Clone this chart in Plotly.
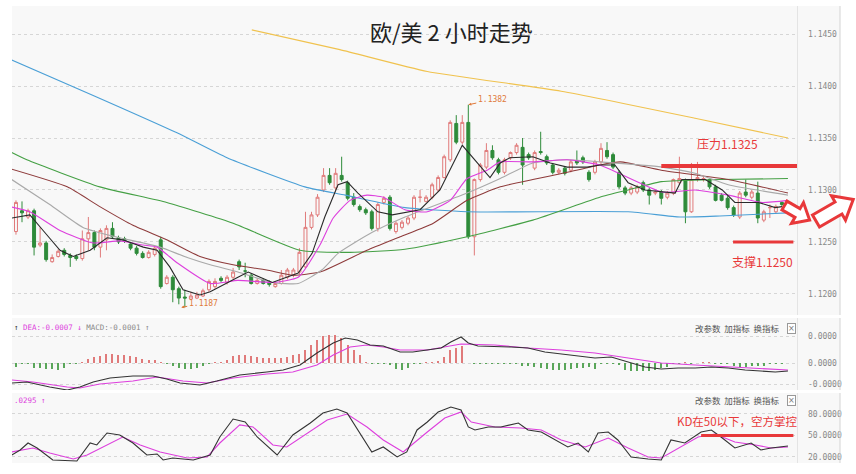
import math
import plotly.graph_objects as go

W, H = 856, 474

# ---------------- data ----------------
open_ = [1.1260, 1.1280, 1.1274, 1.1280, 1.1247, 1.1249, 1.1231, 1.1236, 1.1242, 1.1237,
         1.1236, 1.1234, 1.1253, 1.1259, 1.1245, 1.1252, 1.1263, 1.1254, 1.1253, 1.1248,
         1.1244, 1.1239, 1.1235, 1.1238, 1.1252, 1.1210, 1.1216, 1.1205, 1.1197, 1.1195,
         1.1196, 1.1198, 1.1204, 1.1207, 1.1215, 1.1211, 1.1216, 1.1231, 1.1222, 1.1218,
         1.1210, 1.1213, 1.1211, 1.1207, 1.1210, 1.1216, 1.1218, 1.1221, 1.1226, 1.1264,
         1.1276, 1.1300, 1.1314, 1.1302, 1.1314, 1.1307, 1.1293, 1.1284, 1.1281, 1.1279,
         1.1263, 1.1288, 1.1293, 1.1260, 1.1264, 1.1268, 1.1273, 1.1293, 1.1289, 1.1293,
         1.1300, 1.1312, 1.1329, 1.1364, 1.1346, 1.1365, 1.1255, 1.1310, 1.1322, 1.1338,
         1.1329, 1.1317, 1.1331, 1.1336, 1.1341, 1.1334, 1.1321, 1.1337, 1.1332, 1.1324,
         1.1317, 1.1321, 1.1319, 1.1328, 1.1331, 1.1317, 1.1317, 1.1327, 1.1338, 1.1334,
         1.1317, 1.1302, 1.1297, 1.1298, 1.1307, 1.1300, 1.1297, 1.1298, 1.1293, 1.1297,
         1.1307, 1.1310, 1.1279, 1.1310, 1.1310, 1.1310, 1.1303, 1.1295, 1.1292, 1.1283,
         1.1274, 1.1298, 1.1293, 1.1297, 1.1271, 1.1283, 1.1279, 1.1288]
high = [1.1290, 1.1289, 1.1282, 1.1282, 1.1264, 1.1251, 1.1238, 1.1243, 1.1244, 1.1239,
        1.1238, 1.1261, 1.1274, 1.1261, 1.1263, 1.1266, 1.1269, 1.1256, 1.1255, 1.1250,
        1.1246, 1.1241, 1.1242, 1.1246, 1.1255, 1.1218, 1.1218, 1.1207, 1.1204, 1.1202,
        1.1202, 1.1205, 1.1214, 1.1215, 1.1217, 1.1218, 1.1225, 1.1233, 1.1230, 1.1220,
        1.1215, 1.1215, 1.1213, 1.1212, 1.1223, 1.1225, 1.1225, 1.1244, 1.1279, 1.1279,
        1.1296, 1.1321, 1.1321, 1.1321, 1.1332, 1.1309, 1.1297, 1.1286, 1.1283, 1.1281,
        1.1288, 1.1294, 1.1295, 1.1270, 1.1271, 1.1275, 1.1295, 1.1300, 1.1295, 1.1307,
        1.1314, 1.1334, 1.1367, 1.1372, 1.1372, 1.1382, 1.1311, 1.1326, 1.1345, 1.1343,
        1.1331, 1.1331, 1.1337, 1.1345, 1.1350, 1.1336, 1.1338, 1.1356, 1.1334, 1.1326,
        1.1321, 1.1323, 1.1329, 1.1338, 1.1333, 1.1319, 1.1329, 1.1345, 1.1346, 1.1336,
        1.1319, 1.1304, 1.1304, 1.1305, 1.1309, 1.1302, 1.1300, 1.1300, 1.1299, 1.1311,
        1.1332, 1.1311, 1.1326, 1.1327, 1.1313, 1.1311, 1.1305, 1.1297, 1.1294, 1.1285,
        1.1299, 1.1310, 1.1300, 1.1308, 1.1281, 1.1286, 1.1286, 1.1289]
low = [1.1257, 1.1269, 1.1272, 1.1237, 1.1245, 1.1231, 1.1230, 1.1235, 1.1236, 1.1226,
       1.1232, 1.1232, 1.1242, 1.1242, 1.1235, 1.1242, 1.1253, 1.1248, 1.1249, 1.1242,
       1.1237, 1.1234, 1.1234, 1.1236, 1.1205, 1.1209, 1.1192, 1.1190, 1.1187, 1.1194,
       1.1195, 1.1197, 1.1202, 1.1205, 1.1211, 1.1209, 1.1214, 1.1223, 1.1216, 1.1209,
       1.1209, 1.1209, 1.1207, 1.1206, 1.1209, 1.1214, 1.1216, 1.1219, 1.1224, 1.1262,
       1.1274, 1.1298, 1.1305, 1.1300, 1.1308, 1.1290, 1.1284, 1.1279, 1.1276, 1.1261,
       1.1260, 1.1286, 1.1261, 1.1258, 1.1262, 1.1266, 1.1271, 1.1288, 1.1288, 1.1291,
       1.1298, 1.1311, 1.1327, 1.1344, 1.1344, 1.1253, 1.1237, 1.1308, 1.1320, 1.1329,
       1.1315, 1.1315, 1.1329, 1.1334, 1.1305, 1.1329, 1.1319, 1.1334, 1.1324, 1.1315,
       1.1315, 1.1314, 1.1317, 1.1324, 1.1325, 1.1308, 1.1315, 1.1325, 1.1330, 1.1320,
       1.1301, 1.1295, 1.1295, 1.1296, 1.1298, 1.1286, 1.1295, 1.1286, 1.1291, 1.1295,
       1.1305, 1.1268, 1.1278, 1.1308, 1.1308, 1.1301, 1.1289, 1.1289, 1.1281, 1.1274,
       1.1272, 1.1293, 1.1291, 1.1268, 1.1269, 1.1273, 1.1277, 1.1284]
close = [1.1288, 1.1278, 1.1280, 1.1245, 1.1249, 1.1233, 1.1235, 1.1241, 1.1238, 1.1235,
         1.1234, 1.1253, 1.1259, 1.1245, 1.1261, 1.1263, 1.1255, 1.1250, 1.1251, 1.1244,
         1.1239, 1.1235, 1.1240, 1.1244, 1.1207, 1.1216, 1.1204, 1.1196, 1.1196, 1.1198,
         1.1199, 1.1203, 1.1212, 1.1212, 1.1213, 1.1216, 1.1221, 1.1226, 1.1222, 1.1210,
         1.1213, 1.1210, 1.1209, 1.1210, 1.1218, 1.1223, 1.1223, 1.1240, 1.1264, 1.1276,
         1.1293, 1.1314, 1.1307, 1.1316, 1.1310, 1.1292, 1.1286, 1.1281, 1.1278, 1.1263,
         1.1286, 1.1292, 1.1263, 1.1268, 1.1269, 1.1273, 1.1293, 1.1293, 1.1293, 1.1305,
         1.1312, 1.1332, 1.1365, 1.1346, 1.1365, 1.1255, 1.1310, 1.1324, 1.1338, 1.1331,
         1.1317, 1.1329, 1.1336, 1.1343, 1.1324, 1.1331, 1.1336, 1.1336, 1.1326, 1.1317,
         1.1319, 1.1316, 1.1327, 1.1326, 1.1327, 1.1310, 1.1327, 1.1340, 1.1332, 1.1322,
         1.1303, 1.1297, 1.1302, 1.1303, 1.1300, 1.1295, 1.1298, 1.1292, 1.1297, 1.1310,
         1.1311, 1.1279, 1.1310, 1.1312, 1.1311, 1.1303, 1.1290, 1.1290, 1.1283, 1.1276,
         1.1297, 1.1295, 1.1298, 1.1273, 1.1279, 1.1283, 1.1284, 1.1286]
bars = list(range(len(close)))

ma5_x = [-0.7, 2.3, 4.5, 7.3, 9.5, 12.3, 15.1, 17.7, 21.1, 23.4, 25.5, 27.7, 30.5, 32.2, 36.8, 38.5,
         42.5, 46.8, 49.1, 51.2, 53.4, 54.9, 56.7, 60.0, 62.4, 64.5, 67.0, 70.3, 74.0, 76.5, 78.6,
         80.3, 81.9, 85.7, 88.6, 91.4, 94.7, 96.8, 99.3, 101.5, 104.3, 109.3, 110.4, 114.3, 117.1,
         119.2, 123.1, 125.9, 127.0]
ma5_y = [1.1273, 1.1276, 1.1261, 1.1242, 1.1236, 1.1242, 1.1254, 1.1252, 1.1245, 1.1242, 1.1226,
         1.1204, 1.1199, 1.1202, 1.1216, 1.1221, 1.1211, 1.1220, 1.1239, 1.1274, 1.1305, 1.1308,
         1.1297, 1.1279, 1.1276, 1.1278, 1.1281, 1.1300, 1.1343, 1.1326, 1.1312, 1.1326, 1.1331,
         1.1332, 1.1326, 1.1322, 1.1322, 1.1324, 1.1324, 1.1307, 1.1300, 1.1297, 1.1310, 1.1310,
         1.1300, 1.1288, 1.1288, 1.1283, 1.1284]
ma10_x = [-1.0, 2.3, 7.3, 12.8, 17.2, 21.1, 23.4, 26.7, 32.2, 36.8, 42.5, 46.8, 50.4, 52.6, 55.4,
          58.2, 60.9, 64.5, 68.2, 72.0, 74.8, 78.1, 80.3, 85.7, 91.4, 96.8, 107.1, 112.6, 118.1,
          123.7, 128.0]
ma10_y = [1.1284, 1.1279, 1.1261, 1.1249, 1.1251, 1.1247, 1.1245, 1.1230, 1.1210, 1.1213, 1.1211,
          1.1216, 1.1247, 1.1273, 1.1290, 1.1295, 1.1293, 1.1281, 1.1279, 1.1290, 1.1311, 1.1319,
          1.1327, 1.1327, 1.1329, 1.1324, 1.1298, 1.1300, 1.1295, 1.1288, 1.1290]
ma20_x = [-0.7, 5.6, 11.1, 17.2, 21.1, 23.9, 28.4, 32.2, 36.8, 42.5, 46.8, 50.7, 53.4, 59.0, 64.5,
          74.8, 80.3, 85.7, 91.4, 96.8, 107.1, 112.6, 118.1, 128.0]
ma20_y = [1.1310, 1.1286, 1.1264, 1.1254, 1.1249, 1.1245, 1.1235, 1.1228, 1.1221, 1.1211, 1.1210,
          1.1223, 1.1239, 1.1259, 1.1274, 1.1297, 1.1311, 1.1326, 1.1329, 1.1327, 1.1322, 1.1316,
          1.1305, 1.1295]
ma30_x = [-0.7, 8.5, 13.9, 19.4, 25.0, 30.5, 36.0, 41.6, 45.9, 50.4, 58.2, 63.7, 69.2, 74.8, 80.3,
          85.7, 91.4, 96.8, 100.2, 107.0, 118.1, 128.0]
ma30_y = [1.1320, 1.1303, 1.1284, 1.1266, 1.1252, 1.1236, 1.1228, 1.1223, 1.1218, 1.1221, 1.1242,
          1.1255, 1.1268, 1.1290, 1.1303, 1.1310, 1.1317, 1.1324, 1.1327, 1.1319, 1.1310, 1.1297]
ma60_x = [-0.7, 1.8, 13.9, 25.0, 36.0, 47.1, 55.4, 64.5, 74.8, 85.7, 96.8, 101.5, 107.0, 116.7, 128.0]
ma60_y = [1.1336, 1.1329, 1.1303, 1.1288, 1.1268, 1.1242, 1.1240, 1.1243, 1.1255, 1.1271, 1.1293,
          1.1300, 1.1308, 1.1310, 1.1311]
ma120_x = [-0.7, 12.8, 26.7, 35.0, 47.9, 54.6, 64.5, 74.8, 101.5, 110.1, 116.7, 128.0]
ma120_y = [1.1425, 1.1391, 1.1355, 1.1331, 1.1303, 1.1295, 1.1283, 1.1279, 1.1279, 1.1274, 1.1275, 1.1278]
ma250_x = [39.1, 53.7, 68.2, 90.4, 112.6, 128.0]
ma250_y = [1.1454, 1.1435, 1.1414, 1.1395, 1.1369, 1.1350]

macd_hist = [-0.0004, -0.0001, -0.0001, -0.0005, -0.0005, -0.0006, -0.0006, -0.0007, -0.0005, -0.0001,
             -0.0001, 0.0001, 0.0004, 0.0006, 0.0007, 0.0009, 0.0009, 0.0008, 0.0008, 0.0007,
             0.0006, 0.0004, 0.0003, 0.0003, 0.0001, -0.0001, -0.0003, -0.0005, -0.0006, -0.0006,
             -0.0005, -0.0003, -0.0001, 0.0001, 0.0001, 0.0003, 0.0007, 0.0008, 0.0008, 0.0007,
             0.0006, 0.0005, 0.0005, 0.0005, 0.0005, 0.0006, 0.0008, 0.0009, 0.0013, 0.0018,
             0.0023, 0.0027, 0.0028, 0.0028, 0.0025, 0.0018, 0.0013, 0.0008, 0.0001, -0.0001,
             -0.0001, -0.0001, -0.0002, -0.0006, -0.0007, -0.0005, -0.0001, -0.0001, 0.0001, 0.0001,
             0.0002, 0.0006, 0.0013, 0.0015, 0.0017, 0.0000, -0.0001, -0.0001, -0.0001, -0.0001,
             -0.0001, -0.0001, -0.0001, -0.0001, -0.0003, -0.0003, -0.0004, -0.0005, -0.0006, -0.0007,
             -0.0007, -0.0007, -0.0006, -0.0005, -0.0005, -0.0004, -0.0006, -0.0001, -0.0001, -0.0001,
             -0.0002, -0.0007, -0.0008, -0.0008, -0.0008, -0.0008, -0.0007, -0.0005, -0.0004, -0.0001,
             -0.0001, 0.0001, -0.0001, 0.0000, 0.0001, 0.0001, -0.0001, -0.0001, -0.0001, -0.0003,
             -0.0004, -0.0004, -0.0003, -0.0003, -0.0003, -0.0001, -0.0001, -0.0001]
dif_x = [-0.7, 1.8, 5.6, 8.5, 10.6, 12.8, 15.6, 19.4, 22.7, 25.0, 27.2, 30.5, 33.3, 37.1, 41.6, 44.3,
         47.1, 49.9, 52.6, 54.6, 56.6, 58.7, 60.9, 63.7, 65.8, 68.3, 70.5, 72.1, 73.8, 75.0, 76.6,
         82.1, 84.9, 87.7, 91.5, 96.0, 98.7, 101.5, 104.3, 107.0, 109.8, 112.6, 115.3, 118.1, 120.9,
         123.5, 125.9, 128.0]
dif_y = [-0.0020, -0.0019, -0.0024, -0.0027, -0.0024, -0.0019, -0.0015, -0.0013, -0.0013, -0.0016,
         -0.0020, -0.0022, -0.0018, -0.0012, -0.0009, -0.0007, -0.0002, 0.0010, 0.0020, 0.0025,
         0.0023, 0.0018, 0.0017, 0.0011, 0.0011, 0.0013, 0.0015, 0.0021, 0.0026, 0.0020, 0.0017,
         0.0016, 0.0015, 0.0011, 0.0008, 0.0005, 0.0006, 0.0001, -0.0004, -0.0006, -0.0005,
         -0.0005, -0.0004, -0.0005, -0.0007, -0.0008, -0.0009, -0.0008]
dea_x = [-0.7, 2.8, 8.5, 10.6, 13.9, 19.4, 23.4, 27.7, 31.7, 36.0, 41.6, 45.9, 49.9, 52.6, 55.4,
         58.2, 60.9, 63.7, 68.2, 73.8, 79.4, 84.9, 90.4, 96.0, 101.5, 107.0, 112.6, 118.1, 123.5, 128.0]
dea_y = [-0.0017, -0.0019, -0.0024, -0.0025, -0.0021, -0.0018, -0.0014, -0.0018, -0.0020, -0.0015,
         -0.0011, -0.0009, -0.0002, 0.0008, 0.0016, 0.0018, 0.0016, 0.0013, 0.0013, 0.0019, 0.0018,
         0.0015, 0.0013, 0.0010, 0.0005, 0.0000, -0.0002, -0.0004, -0.0006, -0.0007]

k_x = [-0.7, 0.7, 2.0, 3.5, 6.1, 10.1, 12.3, 13.4, 15.1, 17.2, 19.4, 21.7, 23.4, 24.4, 26.0, 29.4,
       32.2, 33.8, 36.0, 38.0, 40.0, 43.3, 45.9, 48.8, 50.9, 53.2, 54.9, 57.0, 59.0, 60.9, 63.2,
       64.8, 66.5, 68.2, 70.0, 72.1, 73.8, 75.0, 76.1, 78.3, 80.4, 83.3, 84.9, 87.1, 89.4, 91.5,
       93.2, 94.9, 96.5, 98.2, 99.8, 102.0, 104.8, 107.0, 108.6, 110.9, 113.6, 115.3, 116.9,
       119.2, 121.9, 123.5, 125.2, 128.0]
k_y = [22.8, 29.8, 39.5, 32.6, 15.8, 14.4, 39.5, 36.8, 53.5, 50.7, 39.5, 22.8, 24.2, 15.8, 18.6,
       15.8, 22.8, 47.9, 73.0, 68.8, 47.9, 22.8, 50.7, 67.4, 81.4, 87.0, 81.4, 53.5, 27.0, 34.0,
       20.0, 27.0, 57.7, 68.8, 82.8, 89.8, 85.6, 61.9, 57.7, 61.9, 61.9, 67.4, 57.7, 54.9, 43.7,
       34.0, 39.5, 27.0, 53.5, 54.9, 43.7, 20.0, 17.2, 15.8, 43.7, 39.5, 54.9, 57.7, 47.9, 32.6,
       39.5, 29.8, 32.6, 35.4]
d_x = [-0.7, 2.8, 5.6, 9.5, 11.8, 15.1, 17.7, 20.6, 23.9, 28.4, 31.7, 33.8, 37.1, 39.3, 42.6,
       44.9, 48.3, 51.6, 54.9, 58.2, 60.9, 64.2, 68.2, 71.1, 73.8, 75.5, 79.4, 83.7, 87.1, 90.4,
       94.4, 98.2, 101.5, 104.8, 107.0, 110.3, 113.1, 115.9, 119.2, 122.6, 125.2, 128.0]
d_y = [27.0, 32.6, 25.6, 17.2, 22.8, 36.8, 47.9, 36.8, 27.0, 18.6, 20.0, 39.5, 64.7, 61.9, 36.8,
       34.0, 53.5, 71.6, 80.0, 61.9, 43.7, 27.0, 54.9, 74.4, 82.8, 68.8, 61.9, 60.5, 57.7, 43.7,
       34.0, 46.5, 32.6, 20.0, 18.6, 34.0, 47.9, 52.1, 40.9, 36.8, 32.6, 34.0]

price_ticks = [1.1200, 1.1250, 1.1300, 1.1350, 1.1400, 1.1450]
price_ticktext = ["1.1200", "1.1250", "1.1300", "1.1350", "1.1400", "1.1450"]
macd_ticks = [0.0027, 0.0, -0.0021]
macd_ticktext = ["0.0000", "0.0000", "-0.0000"]
kd_ticks = [80, 50, 20]
kd_ticktext = ["80.0000", "50.0000", "20.0000"]

resistance = 1.1323
support = 1.1250
high_mark = (75, 1.1382)
low_mark = (27.4, 1.1187)

# ---------------- helpers (pixel -> paper) ----------------
def px(x):
    return x / W

def py(y):
    return 1 - y / H

XR = [-0.66, 129.5]
RED = "#e8383a"
UP = "#e07a7a"
DOWN = "#2e8b3a"

fig = go.Figure()

fig.add_trace(go.Candlestick(
    x=bars, open=open_, high=high, low=low, close=close,
    increasing=dict(line=dict(color=UP, width=1), fillcolor="#f8f8f8"),
    decreasing=dict(line=dict(color=DOWN, width=1), fillcolor=DOWN),
    whiskerwidth=0, hoverinfo="skip", showlegend=False, xaxis="x", yaxis="y"))

for xs, ys, col, shape in [
    (ma250_x, ma250_y, "#f0c24e", "spline"),
    (ma120_x, ma120_y, "#4a9fd6", "spline"),
    (ma60_x, ma60_y, "#45a045", "spline"),
    (ma30_x, ma30_y, "#8e3b3b", "spline"),
    (ma20_x, ma20_y, "#a9a9a9", "spline"),
    (ma10_x, ma10_y, "#dd3fdd", "spline"),
    (ma5_x, ma5_y, "#2a2a2a", "linear"),
]:
    fig.add_trace(go.Scatter(x=xs, y=ys, mode="lines",
                             line=dict(color=col, width=1.1, shape=shape, smoothing=0.5),
                             hoverinfo="skip", showlegend=False, xaxis="x", yaxis="y"))

fig.add_trace(go.Bar(x=bars, y=macd_hist, width=0.22,
                     marker=dict(color=[UP if v > 0 else "#5aa65a" for v in macd_hist], line=dict(width=0)),
                     hoverinfo="skip", showlegend=False, xaxis="x2", yaxis="y2"))
fig.add_trace(go.Scatter(x=dea_x, y=dea_y, mode="lines", line=dict(color="#dd3fdd", width=1.1),
                         hoverinfo="skip", showlegend=False, xaxis="x2", yaxis="y2"))
fig.add_trace(go.Scatter(x=dif_x, y=dif_y, mode="lines", line=dict(color="#333333", width=1.1),
                         hoverinfo="skip", showlegend=False, xaxis="x2", yaxis="y2"))

fig.add_trace(go.Scatter(x=d_x, y=d_y, mode="lines", line=dict(color="#dd3fdd", width=1.1),
                         hoverinfo="skip", showlegend=False, xaxis="x3", yaxis="y3"))
fig.add_trace(go.Scatter(x=k_x, y=k_y, mode="lines", line=dict(color="#333333", width=1.1),
                         hoverinfo="skip", showlegend=False, xaxis="x3", yaxis="y3"))

xdom = [px(12), px(797)]
xcommon = dict(domain=xdom, range=XR, visible=False, fixedrange=True)
ycommon = dict(side="right", ticks="", showline=False, zeroline=False, gridcolor="#d6d6d6",
               griddash="dot", gridwidth=1, ticklabelstandoff=10,
               tickfont=dict(family="DejaVu Sans Mono", size=8, color="#888888"))

fig.update_layout(
    width=W, height=H, margin=dict(l=0, r=0, t=0, b=0),
    paper_bgcolor="white", plot_bgcolor="#f8f8f8",
    xaxis=dict(**xcommon, anchor="y", rangeslider=dict(visible=False)),
    xaxis2=dict(**xcommon, anchor="y2"),
    xaxis3=dict(**xcommon, anchor="y3"),
    yaxis=dict(**ycommon, domain=[py(315), py(6)], range=[1.11797, 1.14770], anchor="x",
               tickvals=price_ticks, ticktext=price_ticktext),
    yaxis2=dict(**ycommon, domain=[py(390), py(318)], range=[-0.0027, 0.0045], anchor="x2",
                tickvals=macd_ticks, ticktext=macd_ticktext),
    yaxis3=dict(**ycommon, domain=[py(463), py(393)], range=[11.6, 109.3], anchor="x3",
                tickvals=kd_ticks, ticktext=kd_ticktext),
    bargap=0, showlegend=False,
)

shapes = []
# right label strips
for top, bot in [(6, 315), (318, 390), (393, 463)]:
    shapes.append(dict(type="rect", xref="paper", yref="paper", x0=px(797), x1=px(840),
                       y0=py(bot), y1=py(top), fillcolor="#f8f8f8", line=dict(width=0), layer="below"))
    shapes.append(dict(type="line", xref="paper", yref="paper", x0=px(797.5), x1=px(797.5),
                       y0=py(bot), y1=py(top), line=dict(color="#e4e4e4", width=1)))
    shapes.append(dict(type="line", xref="paper", yref="paper", x0=px(840), x1=px(840),
                       y0=py(bot), y1=py(top), line=dict(color="#d4d4d4", width=1)))

# resistance / support / KD lines
shapes.append(dict(type="line", xref="x", yref="y", x0=107.0, x1=129.5, y0=resistance, y1=resistance,
                   line=dict(color=RED, width=4)))
shapes.append(dict(type="line", xref="x", yref="y", x0=118.9, x1=128.9, y0=support, y1=support,
                   line=dict(color=RED, width=3)))
shapes.append(dict(type="line", xref="x3", yref="y3", x0=113.6, x1=128.9, y0=50, y1=50,
                   line=dict(color=RED, width=3)))


def arrow_path(tx, ty, ang, L, hl, hw, sw):
    a = math.radians(ang)
    ux, uy = math.cos(a), math.sin(a)
    nx, ny = -uy, ux
    loc = [(0, -sw), (L - hl, -sw), (L - hl, -hw), (L, 0), (L - hl, hw), (L - hl, sw), (0, sw)]
    pts = [(tx + s * ux + c * nx, ty + s * uy + c * ny) for s, c in loc]
    return "M " + " L ".join(f"{px(x):.5f},{py(y):.5f}" for x, y in pts) + " Z"


shapes.append(dict(type="path", xref="paper", yref="paper",
                   path=arrow_path(784.5, 205.5, 30, 29, 14, 12, 5),
                   fillcolor="white", line=dict(color=RED, width=3)))
shapes.append(dict(type="path", xref="paper", yref="paper",
                   path=arrow_path(816, 221, -30, 43, 17, 14, 7),
                   fillcolor="white", line=dict(color=RED, width=3)))
fig.update_layout(shapes=shapes)

ann = []
ann.append(dict(xref="paper", yref="paper", x=px(451), y=py(31), text="欧/美 2 小时走势",
                showarrow=False, font=dict(family="Noto Sans CJK SC", size=22, color="#222222"),
                xanchor="center", yanchor="middle"))
ann.append(dict(xref="x", yref="y", x=117.9, y=1.1345, text="压力1.1325", showarrow=False,
                font=dict(family="Noto Sans CJK SC", size=12, color=RED)))
ann.append(dict(xref="x", yref="y", x=123.7, y=1.1231, text="支撑1.1250", showarrow=False,
                font=dict(family="Noto Sans CJK SC", size=12, color=RED)))
ann.append(dict(xref="x3", yref="y3", x=119.6, y=70.2, text="KD在50以下，空方掌控", showarrow=False,
                font=dict(family="Noto Sans CJK SC", size=11.5, color=RED)))
ann.append(dict(xref="x", yref="y", x=high_mark[0], y=high_mark[1], text="1.1382", showarrow=True,
                ax=24, ay=-5, arrowhead=2, arrowsize=0.6, arrowwidth=1, arrowcolor="#e07a3a",
                font=dict(family="DejaVu Sans Mono", size=8, color="#e07a3a")))
ann.append(dict(xref="x", yref="y", x=low_mark[0], y=low_mark[1], text="1.1187", showarrow=True,
                ax=22, ay=-4, arrowhead=2, arrowsize=0.6, arrowwidth=1, arrowcolor="#e07a3a",
                font=dict(family="DejaVu Sans Mono", size=8, color="#e07a3a")))
ann.append(dict(xref="paper", yref="paper", x=px(12), y=py(327), xanchor="left", yanchor="middle",
                showarrow=False,
                text="<span style='color:#333'>↑</span> <span style='color:#dd3fdd'>DEA:-0.0007 ↓</span>"
                     " <span style='color:#888'>MACD:-0.0001 ↑</span>",
                font=dict(family="DejaVu Sans Mono", size=7.5)))
ann.append(dict(xref="paper", yref="paper", x=px(12), y=py(400), xanchor="left", yanchor="middle",
                showarrow=False, text=".0295 ↑",
                font=dict(family="DejaVu Sans Mono", size=7.5, color="#dd3fdd")))
for yy in (328, 400):
    ann.append(dict(xref="paper", yref="paper", x=px(782), y=py(yy), xanchor="right", yanchor="middle",
                    showarrow=False, text="改参数  加指标  换指标",
                    font=dict(family="Noto Sans CJK SC", size=8.5, color="#555555")))
    ann.append(dict(xref="paper", yref="paper", x=px(791), y=py(yy), xanchor="center", yanchor="middle",
                    showarrow=False, text="×", bordercolor="#999999", borderwidth=1, borderpad=0,
                    bgcolor="#ffffff", font=dict(family="DejaVu Sans", size=8, color="#777777")))
fig.update_layout(annotations=ann)

fig.write_html("out.html", config={"displayModeBar": False},
               post_script="document.body.style.margin='0px';")
